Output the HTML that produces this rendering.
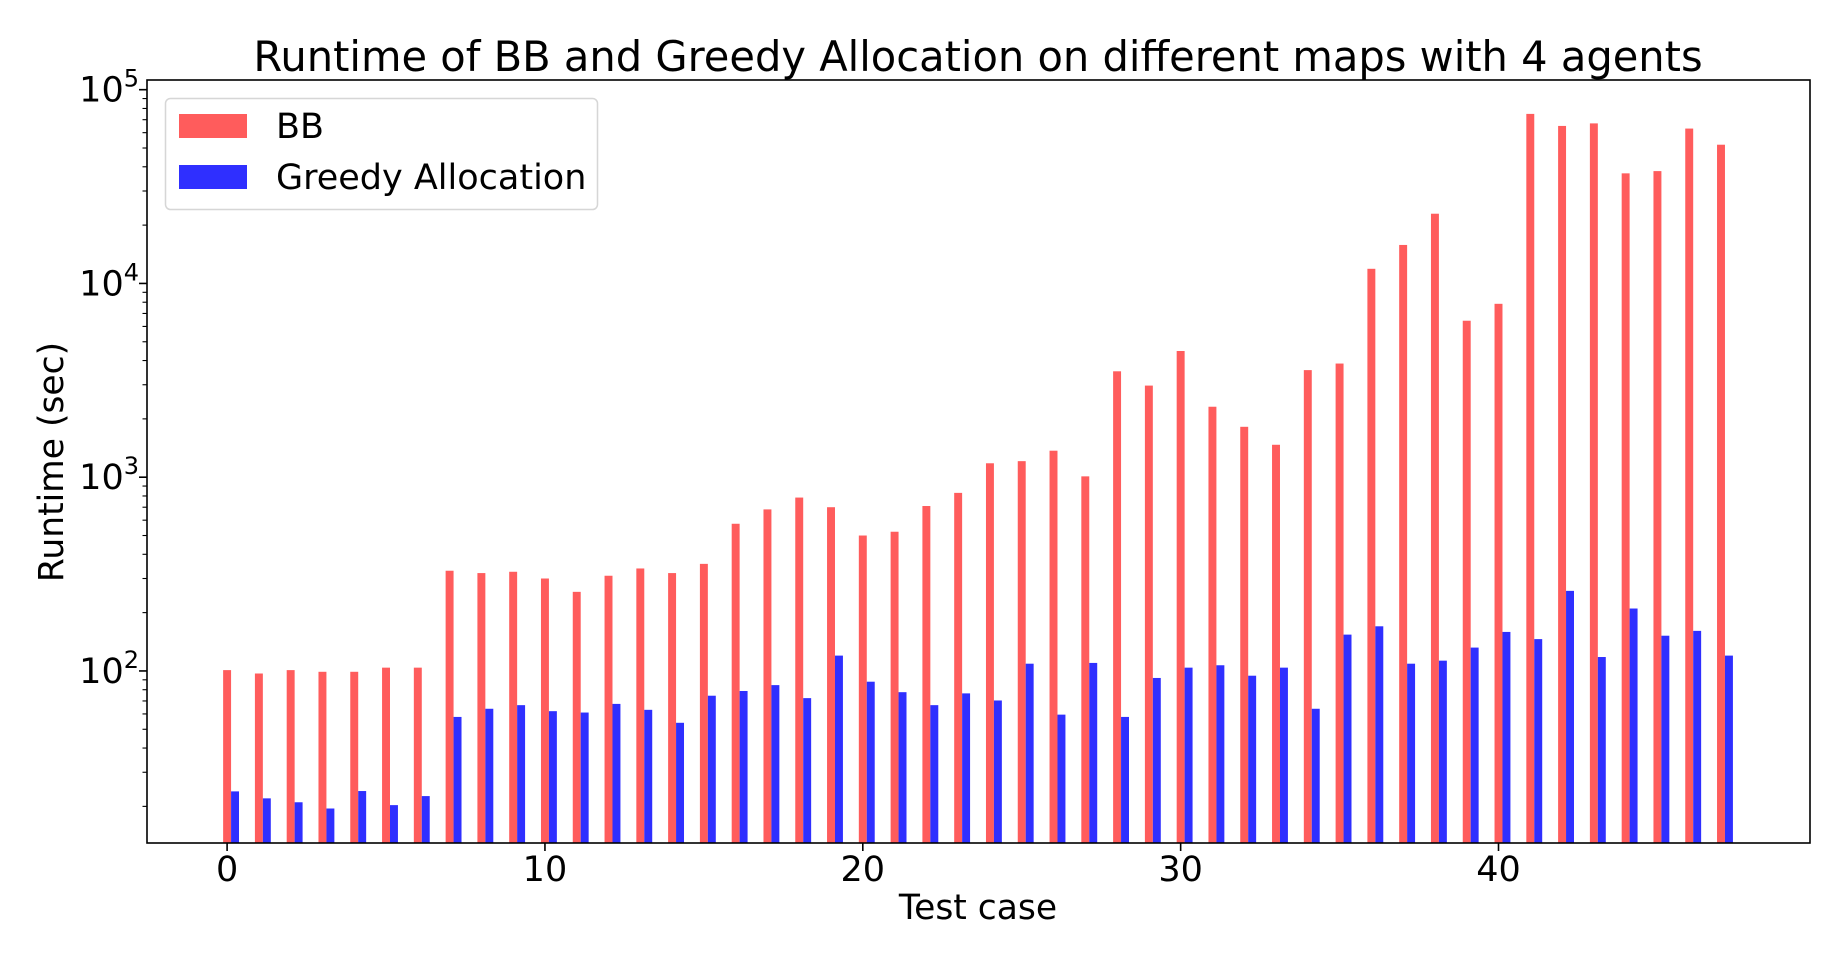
<!DOCTYPE html>
<html><head><meta charset="utf-8"><style>
html,body{margin:0;padding:0;background:#fff;}
svg{display:block;font-family:"DejaVu Sans","Liberation Sans",sans-serif;}
</style></head><body>
<svg id="chart" width="1848" height="964" viewBox="0 0 1848 964" xmlns="http://www.w3.org/2000/svg">
<text x="978" y="71" font-size="41.6" text-anchor="middle">Runtime of BB and Greedy Allocation on different maps with 4 agents</text>
<g id="bars"></g>
<g id="axes"></g>
<text x="978" y="919" font-size="34.5" text-anchor="middle">Test case</text>
<text transform="translate(63,462) rotate(-90)" font-size="34.5" text-anchor="middle">Runtime (sec)</text>
<g>
<rect x="165.5" y="98.5" width="432" height="111" rx="5" fill="#fff" fill-opacity="0.8" stroke="#d6d6d6" stroke-width="1.5"/>
<rect x="179" y="114" width="68" height="24" fill="#ff5c5c"/>
<text x="276" y="138" font-size="35">BB</text>
<rect x="179" y="165" width="68" height="24" fill="#2f2fff"/>
<text x="276" y="189" font-size="35">Greedy Allocation</text>
</g>
</svg>
<script>
const categories = Array.from({length:48},(_, i)=>i);
const bbValues = [101,97,101,99,99,104,104,329,320,325,300,256,310,338,320,357,575,682,785,700,500,523,710,830,1180,1210,1370,1010,3520,2970,4480,2310,1820,1470,3570,3860,11900,15800,22900,6420,7850,75000,65000,67000,37000,38000,63000,52000];
const greedyValues = [23.9,22,21,19.5,24,20.3,22.6,57.9,63.8,66.6,62,61,67.6,63,54,74.5,78.8,84.5,72.4,120,88,77.7,66.6,76.6,70.4,109,59.5,110,57.9,92,104,107,94.5,104,63.8,154,170,109,113,132,159,146,259,118,210,152,161,120];
const xTicks = [0,10,20,30,40];
const yDecades = [2,3,4,5];

const NS="http://www.w3.org/2000/svg";
const L=147,R=1810,T=80,B=843;
const xMin=-2.52,xMax=49.8;
const yMin=1.112,yMax=5.05;
function xs(v){return L+(v-xMin)/(xMax-xMin)*(R-L);}
function ys(v){return B-(Math.log10(v)-yMin)/(yMax-yMin)*(B-T);}
function mk(tag,attrs,parent){const e=document.createElementNS(NS,tag);for(const k in attrs)e.setAttribute(k,attrs[k]);parent.appendChild(e);return e;}
const bars=document.getElementById('bars'), axes=document.getElementById('axes');
const bw=0.25;
categories.forEach((c,i)=>{
  const x1=xs(c-bw/2), x2=xs(c+bw/2), y=ys(bbValues[i]);
  const r=mk('rect',{x:x1,y:y,width:x2-x1,height:B-y,fill:'#ff5c5c'},bars);
  
  
  const g1=xs(c+bw/2), g2=xs(c+1.5*bw), gy=ys(greedyValues[i]);
  const r2=mk('rect',{x:g1,y:gy,width:g2-g1,height:B-gy,fill:'#2f2fff'},bars);
  
  
});
const frame=mk('rect',{x:L,y:T,width:R-L,height:B-T,fill:'none',stroke:'#000','stroke-width':1.6},axes);


xTicks.forEach(t=>{
  const x=xs(t);
  mk('line',{x1:x,x2:x,y1:B,y2:B+8,stroke:'#000','stroke-width':1.6},axes);
  const tx=mk('text',{x:x,y:881,'font-size':35,'text-anchor':'middle'},axes);
  tx.textContent=t;
  
  
});
for(let d=1;d<=5;d++){
  for(let m=1;m<10;m++){
    const v=m*Math.pow(10,d);
    const lv=Math.log10(v);
    if(lv<yMin||lv>yMax)continue;
    const y=ys(v);
    mk('line',{x1:L,x2:L-(m===1?8:4.5),y1:y,y2:y,stroke:'#000','stroke-width':m===1?1.6:1.1},axes);
  }
}
yDecades.forEach(d=>{
  const y=ys(Math.pow(10,d));
  const t=mk('text',{x:139,y:y+12,'font-size':35,'text-anchor':'end'},axes);
  
  
  t.textContent='10';
  const s=mk('tspan',{dy:-15,'font-size':24},t);
  s.textContent=d;
});
</script>
</body></html>
